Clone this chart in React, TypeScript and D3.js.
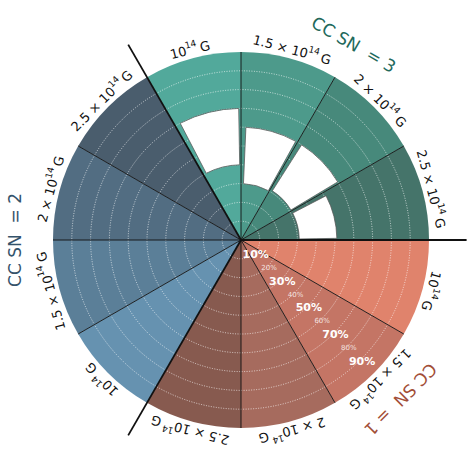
import React from "react";
import * as d3 from "d3";

// groups in clockwise order starting at the top-left group boundary
const groups = ["CC SN = 3", "CC SN = 1", "CC SN = 2"];
const groupNumbers = ["3", "1", "2"];
const fieldPrefix = ["", "1.5 × ", "2 × ", "2.5 × "];
const fieldKeys = ["1e14", "1.5e14", "2e14", "2.5e14"];

// every sector is filled up to 100%
const sn3Fill = [1, 1, 1, 1];
const sn1Fill = [1, 1, 1, 1];
const sn2Fill = [1, 1, 1, 1];

// blank (white) range inside the CC SN = 3 sectors
const sn3GapLow = [0.4, 0.3, 0.31, 0.31];
const sn3GapHigh = [0.7, 0.6, 0.6, 0.51];

const sn3Colors = ["#52a99b", "#4d9a8b", "#47897b", "#45746a"];
const sn1Colors = ["#e0836c", "#c47565", "#a66b5e", "#875a4f"];
const sn2Colors = ["#6692b0", "#5b7f98", "#526d82", "#4a5d6d"];
const groupLabelColors = ["#22695b", "#a24e37", "#34536b"];

const radialTicks = [0.1, 0.2, 0.3, 0.4, 0.5, 0.6, 0.7, 0.8, 0.9];
const radialTickLabels = ["10%", "20%", "30%", "40%", "50%", "60%", "70%", "80%", "90%"];

const W = 476, H = 476;
const cx = 241, cy = 240, R = 188;
const deg = Math.PI / 180;

const fills = [sn3Fill, sn1Fill, sn2Fill];
const colors = [sn3Colors, sn1Colors, sn2Colors];
const gaps: (number[][] | null)[] = [[sn3GapLow, sn3GapHigh], null, null];
// where the group titles sit (d3 angle, clockwise from 12 o'clock)
const groupLabelAngle = [30, 135, 270];

const keys = groups.flatMap(g => fieldKeys.map(f => g + "|" + f));
const angle = d3.scaleBand<string>().domain(keys).range([-30 * deg, 330 * deg]);
const r = d3.scaleLinear().domain([0, 1]).range([0, R]);
const arc = d3.arc<any>();

const pt = (a: number, rr: number) => [cx + rr * Math.sin(a), cy - rr * Math.cos(a)];

export default function App() {
  const bw = angle.bandwidth();
  const font = "DejaVu Sans, sans-serif";

  const sectors: any[] = [];
  const holes: any[] = [];
  const labels: any[] = [];
  groups.forEach((g, gi) => {
    fieldKeys.forEach((f, i) => {
      const key = g + "|" + f;
      const a0 = angle(key)!;
      sectors.push(
        <path key={key} transform={`translate(${cx},${cy})`} fill={colors[gi][i]}
          d={arc({ innerRadius: 0, outerRadius: r(fills[gi][i]), startAngle: a0, endAngle: a0 + bw })!} />
      );
      const gp = gaps[gi];
      if (gp) {
        holes.push(
          <path key={key} transform={`translate(${cx},${cy})`} fill="#fff" stroke="#555" strokeOpacity={0.75} strokeWidth={1}
            d={arc({ innerRadius: r(gp[0][i]), outerRadius: r(gp[1][i]), startAngle: a0 + 2.5 * deg, endAngle: a0 + bw - 1 * deg })!} />
        );
      }
      const am = a0 + bw / 2;
      const [lx, ly] = pt(am, R + 9);
      labels.push(
        <text key={key} x={0} y={0} transform={`translate(${lx},${ly}) rotate(${am / deg})`}
          textAnchor="middle" dominantBaseline="central" fontSize={13} fill="#111" fontFamily={font}>
          {fieldPrefix[i]}10<tspan fontSize={9} dy={-5}>14</tspan><tspan dy={5}>{"\u2009G"}</tspan>
        </text>
      );
    });
  });

  // boundaries
  const lines: any[] = [];
  keys.forEach((k, idx) => {
    const a = angle(k)!;
    const major = idx % 4 === 0;
    const [x2, y2] = pt(a, major ? R * 1.2 : R);
    lines.push(<line key={k} x1={cx} y1={cy} x2={x2} y2={y2} stroke="#111" strokeWidth={major ? 1.8 : 0.9} />);
  });

  return (
    <svg width={W} height={H} style={{ position: "absolute", left: 0, top: 0, background: "#fff" }}>
      {sectors}
      {radialTicks.map(t => (
        <circle key={t} cx={cx} cy={cy} r={r(t)} fill="none" stroke="#fff" strokeOpacity={0.75}
          strokeWidth={0.9} strokeDasharray="1 1.5" />
      ))}
      {holes}
      {lines}
      {labels}
      {radialTicks.map((t, i) => {
        const [x, y] = pt(135 * deg, r(t) + 2);
        const big = i % 2 === 0;
        return (
          <text key={t} x={x} y={y} textAnchor="middle" dominantBaseline="central" fill="#fff"
            fillOpacity={big ? 1 : 0.8} fontSize={big ? 11 : 7} fontWeight={big ? "bold" : "normal"} fontFamily={font}>
            {radialTickLabels[i]}
          </text>
        );
      })}
      {groups.map((g, gi) => {
        const a = groupLabelAngle[gi] * deg;
        const [x, y] = pt(a, R * 1.2);
        return (
          <text key={g} transform={`translate(${x},${y}) rotate(${groupLabelAngle[gi]})`} textAnchor="middle"
            dominantBaseline="central" fontSize={17} fill={groupLabelColors[gi]} fontFamily={font} style={{ whiteSpace: "pre" }}>
            {"CC SN  = " + groupNumbers[gi]}
          </text>
        );
      })}
    </svg>
  );
}
